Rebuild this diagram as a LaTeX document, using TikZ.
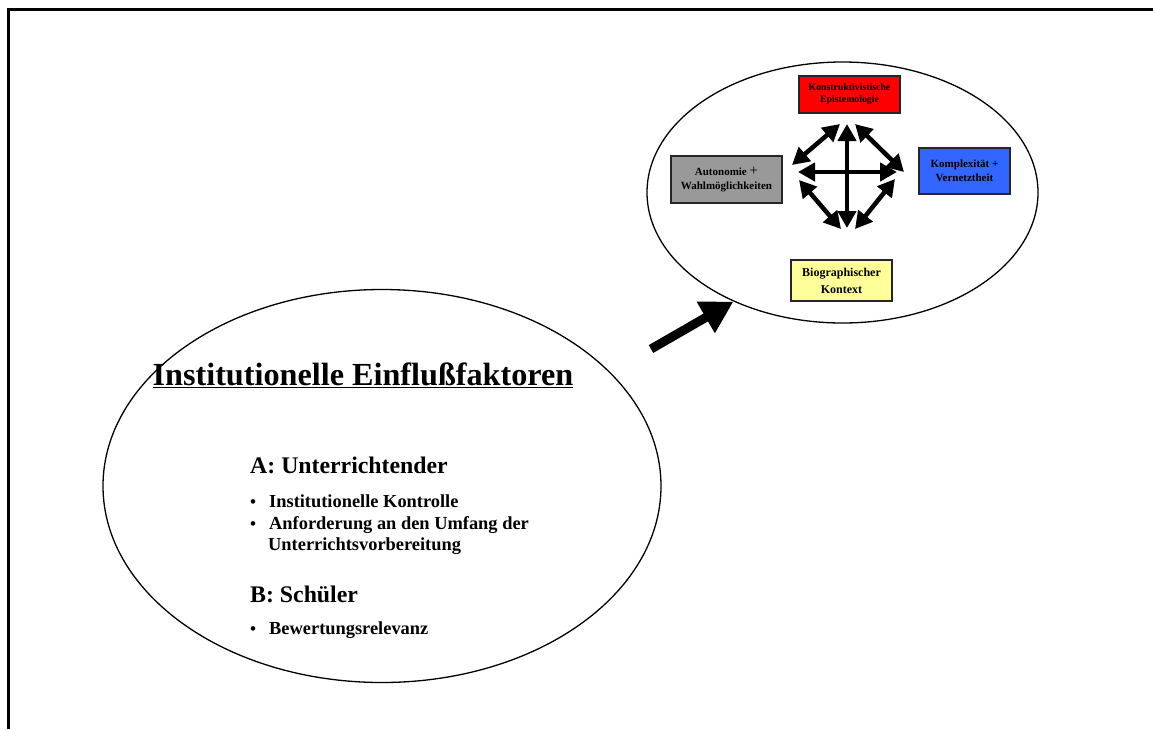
\documentclass[tikz,border=0pt]{standalone}
\usepackage{fontspec}
\setmainfont{Liberation Serif}
\usetikzlibrary{arrows.meta,shapes.geometric}
\definecolor{boxred}{HTML}{FF0000}
\definecolor{boxgrey}{HTML}{999999}
\definecolor{boxblue}{HTML}{3366FF}
\definecolor{boxyellow}{HTML}{FFFF99}
\tikzset{
  frameline/.style={line width=3pt},
  oval/.style={draw, ellipse, line width=1.3pt, inner sep=0pt},
  factor/.style={draw=black!85, line width=1.3pt, align=center, inner sep=0pt,
    font=\bfseries\fontsize{11}{14}\selectfont},
  link/.style={line width=4.5pt, {Triangle[width=18pt,length=17pt]}-{Triangle[width=18pt,length=17pt]}},
  bigarrow/.style={line width=9pt, -{Triangle[width=34pt,length=32pt]}},
  head/.style={anchor=base west, inner sep=0pt, font=\bfseries\fontsize{23.8}{26}\selectfont},
  item/.style={anchor=base west, inner sep=0pt, font=\bfseries\fontsize{18.4}{20}\selectfont},
  dot/.style={anchor=base, inner sep=0pt, font=\bfseries\fontsize{17}{18}\selectfont},
}
\begin{document}
\begin{tikzpicture}[x=1pt,y=-1pt]
\useasboundingbox (0,0) rectangle (1153,729);
% border of the page
\draw[frameline] (8.5,729) -- (8.5,9.5) -- (1153,9.5);

% the two ovals
\node[oval, minimum width=558pt, minimum height=393pt] (inst) at (382,486) {};
\node[oval, minimum width=391pt, minimum height=261pt] (core) at (842.5,192.5) {};

% factor boxes
\node[factor, fill=boxred, minimum width=101pt, minimum height=37pt,
  font=\bfseries\fontsize{9.8}{12}\selectfont] (epi) at (849.5,94.5)
  {Konstruktivistische\\Epistemologie};
\node[factor, fill=boxgrey, minimum width=111pt, minimum height=47pt] (auto) at (726.5,179.5)
  {Autonomie {\mdseries\fontsize{15}{12}\selectfont +}\\Wahlmöglichkeiten};
\node[factor, fill=boxblue, minimum width=91pt, minimum height=46pt] (komp) at (964.5,171)
  {Komplexität +\\Vernetztheit};
\node[factor, fill=boxyellow, minimum width=101pt, minimum height=41pt,
  font=\bfseries\fontsize{12}{17}\selectfont] (bio) at (841.5,280.5)
  {Biographischer\\Kontext};

% star of double arrows between the factors
\coordinate (n) at (847,124);
\coordinate (s) at (847,228);
\coordinate (w) at (798,172);
\coordinate (e) at (897,172);
\coordinate (nw1) at (792,165);
\coordinate (nw2) at (840,124);
\coordinate (ne1) at (855,124);
\coordinate (ne2) at (904,172);
\coordinate (sw1) at (799,180);
\coordinate (sw2) at (841,229);
\coordinate (se1) at (855,229);
\coordinate (se2) at (895,179);
\draw[link] (s) -- (n);
\draw[link] (w) -- (e);
\draw[link] (nw1) -- (nw2);
\draw[link] (ne1) -- (ne2);
\draw[link] (sw1) -- (sw2);
\draw[link] (se1) -- (se2);

% arrow from the institutional oval to the core oval
\coordinate (tail) at (651,349);
\draw[bigarrow] (tail) -- (core.225);

% title and lists
\node[anchor=base, inner sep=0pt, font=\bfseries\fontsize{32.2}{36}\selectfont] (title) at (363,385)
  {\underline{Institutionelle Einflußfaktoren}};
\node[head] (ha) at (250,473) {A: Unterrichtender};
\node[dot] (d1) at (253,507) {•};
\node[item] (i1) at (269,507) {Institutionelle Kontrolle};
\node[dot] (d2) at (253,529) {•};
\node[item] (i2) at (269,529) {Anforderung an den Umfang der};
\node[item] (i3) at (268,550) {Unterrichtsvorbereitung};
\node[head] (hb) at (250,602) {B: Schüler};
\node[dot] (d3) at (253,634) {•};
\node[item] (i4) at (269,634) {Bewertungsrelevanz};
\end{tikzpicture}
\end{document}
